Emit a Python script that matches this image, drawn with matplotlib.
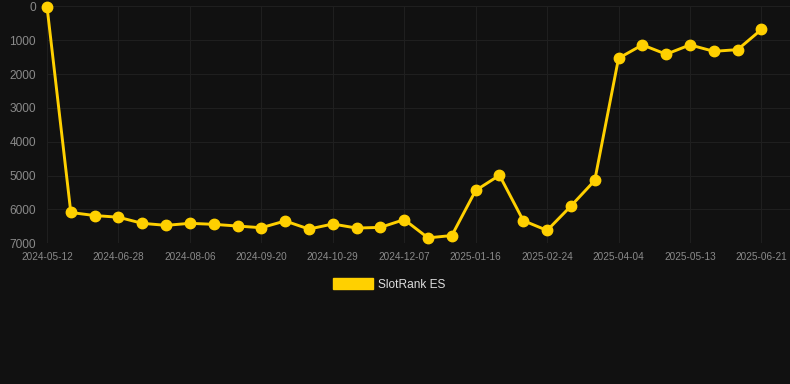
import matplotlib.pyplot as plt
from matplotlib.patches import Patch

# tick labels (every third point)
tick_labels = ['2024-05-12', '2024-06-28', '2024-08-06', '2024-09-20', '2024-10-29',
               '2024-12-07', '2025-01-16', '2025-02-24', '2025-04-04', '2025-05-13',
               '2025-06-21']
# rank values, one per point
ranks = [10, 6090, 6180, 6230, 6410, 6470, 6410, 6440, 6490, 6540,
         6340, 6580, 6430, 6550, 6530, 6300, 6840, 6770, 5440, 4990,
         6330, 6620, 5900, 5145, 1535, 1140, 1415, 1140, 1330, 1280,
         685]
series_name = 'SlotRank ES'

bg = '#111111'
gold = '#FFD000'
plt.rcParams['font.family'] = ['Liberation Sans', 'DejaVu Sans']

fig = plt.figure(figsize=(7.9, 3.84), dpi=100, facecolor=bg)
ax = fig.add_axes([47 / 790, 1 - 243.3 / 384, 1 - 47 / 790, (243.3 - 6.3) / 384])
ax.set_facecolor(bg)

xs = list(range(len(ranks)))
ax.plot(xs, ranks, color=gold, lw=2.1, marker='o', ms=7.5, clip_on=False, zorder=3)

ax.set_ylim(7000, 0)
ax.set_xlim(0, 31.2)
ax.set_yticks(range(0, 7001, 1000))
ax.set_xticks(xs[::3])
ax.set_xticklabels(tick_labels)
ax.tick_params(axis='y', length=0, pad=8, labelsize=8.6, labelcolor='#8a8a8a')
ax.tick_params(axis='x', length=0, pad=6, labelsize=7.2, labelcolor='#8a8a8a')
ax.grid(True, color='#1f1f1f', lw=0.8)
ax.set_axisbelow(True)
for s in ax.spines.values():
    s.set_visible(False)

handle = Patch(facecolor=gold, edgecolor=gold)
leg = fig.legend([handle], [series_name], loc='center', bbox_to_anchor=(0.493, 1 - 284.5 / 384),
                 frameon=False, fontsize=8.6, handlelength=3.3, handleheight=0.95,
                 handletextpad=0.5, labelcolor='#dddddd')

fig.savefig('out.png', dpi=100, facecolor=bg)
